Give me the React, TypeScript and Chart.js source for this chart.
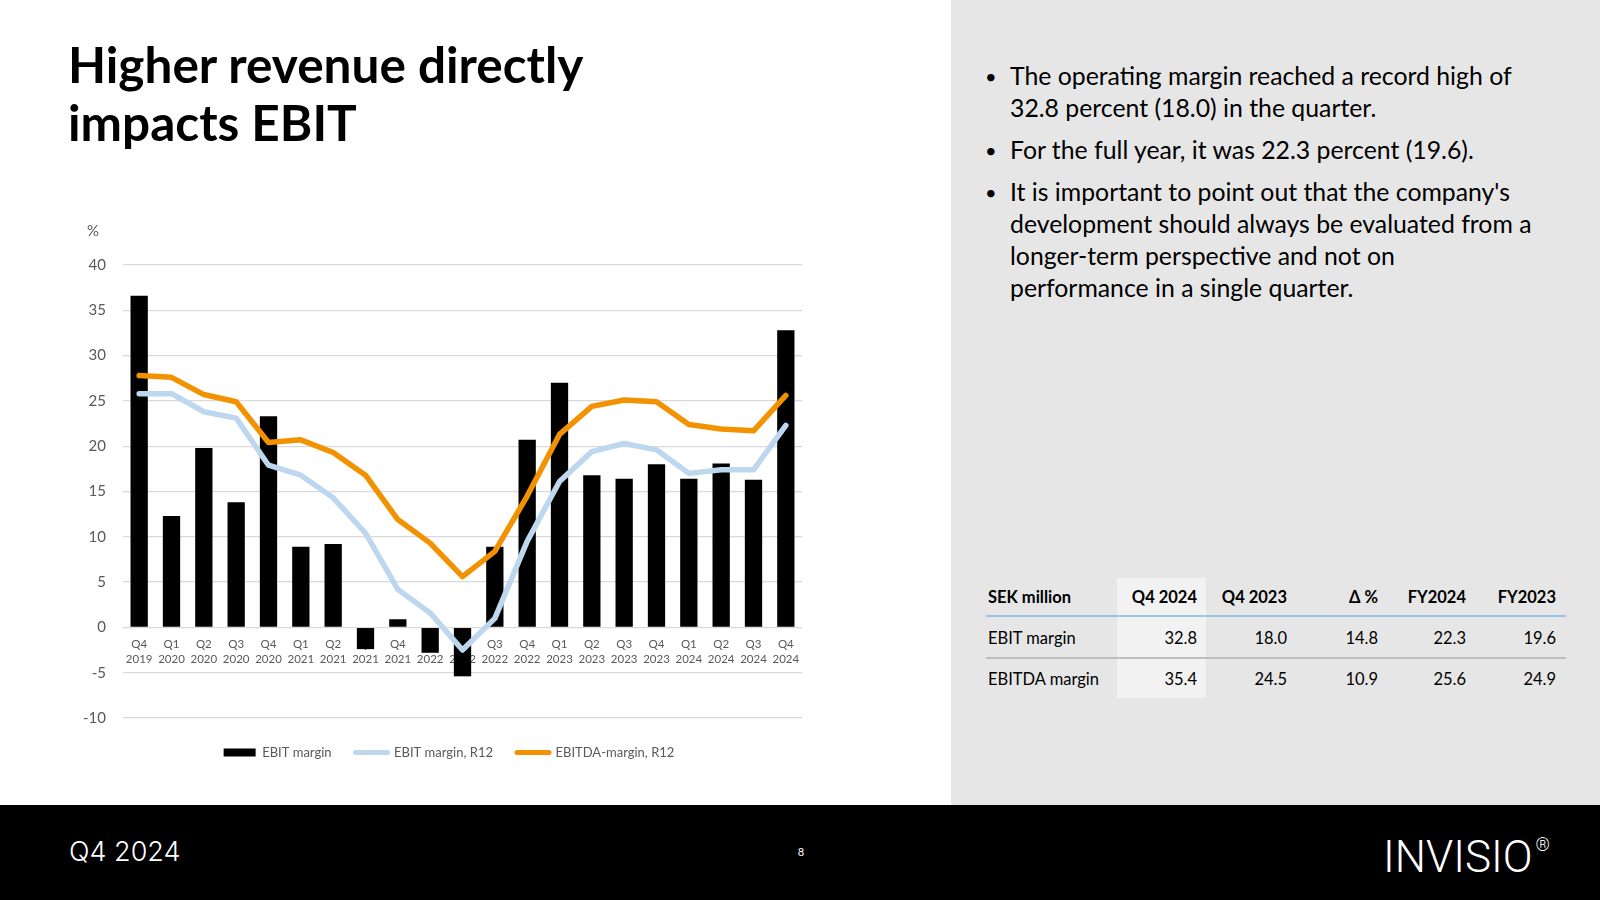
import React, { useEffect, useRef } from "react";
import { Chart, registerables } from "chart.js";

Chart.register(...registerables);

// ---------- data ----------
const quarterLabels = ["Q4", "Q1", "Q2", "Q3", "Q4", "Q1", "Q2", "Q3", "Q4", "Q1", "Q2", "Q3", "Q4", "Q1", "Q2", "Q3", "Q4", "Q1", "Q2", "Q3", "Q4"];
const yearLabels = ["2019", "2020", "2020", "2020", "2020", "2021", "2021", "2021", "2021", "2022", "2022", "2022", "2022", "2023", "2023", "2023", "2023", "2024", "2024", "2024", "2024"];

const ebitMargin = [36.6, 12.3, 19.8, 13.8, 23.3, 8.9, 9.2, -2.4, 0.9, -2.8, -5.4, 8.9, 20.7, 27.0, 16.8, 16.4, 18.0, 16.4, 18.1, 16.3, 32.8];
const ebitMarginR12 = [25.8, 25.8, 23.8, 23.1, 17.9, 16.8, 14.3, 10.4, 4.2, 1.6, -2.5, 1.0, 9.5, 16.1, 19.4, 20.3, 19.6, 17.0, 17.4, 17.4, 22.3];
const ebitdaMarginR12 = [27.8, 27.6, 25.7, 24.9, 20.4, 20.7, 19.3, 16.8, 11.9, 9.3, 5.6, 8.4, 14.5, 21.3, 24.4, 25.1, 24.9, 22.4, 21.9, 21.7, 25.6];

const seriesNames = ["EBIT margin", "EBIT margin, R12", "EBITDA-margin, R12"];
const yMin = -10;
const yMax = 40;
const yStep = 5;
const yUnit = "%";

const titleLines = ["Higher revenue directly", "impacts EBIT"];
const bulletLines = [
  ["The operating margin reached a record high of", "32.8 percent (18.0) in the quarter."],
  ["For the full year, it was 22.3 percent (19.6)."],
  ["It is important to point out that the company's", "development should always be evaluated from a", "longer-term perspective and not on", "performance in a single quarter."],
];

const tableHeaderLabel = "SEK million";
const tableColumns = ["Q4 2024", "Q4 2023", "Δ %", "FY2024", "FY2023"];
const tableRowNames = ["EBIT margin", "EBITDA margin"];
const tableEbitValues = ["32.8", "18.0", "14.8", "22.3", "19.6"];
const tableEbitdaValues = ["35.4", "24.5", "10.9", "25.6", "24.9"];

const footerPeriod = "Q4 2024";
const pageNumber = "8";
const logoText = "INVISIO";

// ---------- styles ----------
const COLORS = {
  bar: "#000000",
  ebitR12: "#BDD7EE",
  ebitdaR12: "#F39200",
  grid: "#D9D9D9",
  tick: "#595959",
  panel: "#E7E6E6",
};

const FONT = "Lato, 'Open Sans', sans-serif";

const percentLabelPlugin = {
  id: "percentLabel",
  afterLayout(chart: any) {
    if (chart.legend) {
      chart.legend.left += 36;
      chart.legend.top += 4;
    }
  },
  afterDraw(chart: any) {
    const ctx = chart.ctx;
    ctx.save();
    ctx.font = `15px ${FONT}`;
    ctx.fillStyle = COLORS.tick;
    ctx.textAlign = "left";
    ctx.textBaseline = "middle";
    ctx.fillText(yUnit, chart.chartArea.left - 36, chart.chartArea.top - 34);
    ctx.restore();
  },
};

function MarginChart() {
  const ref = useRef<HTMLCanvasElement | null>(null);

  useEffect(() => {
    if (!ref.current) return;
    Chart.defaults.font.family = FONT;
    const labels = quarterLabels.map((q, i) => [q, yearLabels[i]]);
    const chart = new Chart(ref.current, {
      type: "bar",
      data: {
        labels,
        datasets: [
          {
            type: "bar",
            label: seriesNames[0],
            data: ebitMargin,
            backgroundColor: COLORS.bar,
            borderWidth: 0,
            barPercentage: 0.535,
            categoryPercentage: 1,
            order: 3,
          },
          {
            type: "line",
            label: seriesNames[1],
            data: ebitMarginR12,
            borderColor: COLORS.ebitR12,
            backgroundColor: COLORS.ebitR12,
            borderWidth: 5.5,
            pointRadius: 0,
            tension: 0,
            fill: false,
            borderCapStyle: "round",
            borderJoinStyle: "round",
            order: 2,
          },
          {
            type: "line",
            label: seriesNames[2],
            data: ebitdaMarginR12,
            borderColor: COLORS.ebitdaR12,
            backgroundColor: COLORS.ebitdaR12,
            borderWidth: 5.5,
            pointRadius: 0,
            tension: 0,
            fill: false,
            borderCapStyle: "round",
            borderJoinStyle: "round",
            order: 1,
          },
        ] as any,
      },
      options: {
        responsive: false,
        animation: false,
        events: [],
        layout: { padding: { left: 0, right: 18, top: 65, bottom: 5 } },
        scales: {
          x: {
            type: "category",
            position: { y: 0 } as any,
            offset: true,
            z: 1,
            grid: { display: false, drawTicks: false },
            border: { display: false },
            ticks: {
              color: COLORS.tick,
              font: { size: 11.5, lineHeight: 1.35 },
              padding: 9,
              maxRotation: 0,
              minRotation: 0,
              autoSkip: false,
            },
          },
          y: {
            min: yMin,
            max: yMax,
            grid: { color: COLORS.grid, lineWidth: 1.3, drawTicks: false },
            border: { display: false },
            ticks: { stepSize: yStep, color: COLORS.tick, font: { size: 15 }, padding: 17 },
            afterFit: (s: any) => {
              s.width = 63;
            },
          },
        },
        plugins: {
          tooltip: { enabled: false },
          legend: {
            position: "bottom",
            labels: {
              usePointStyle: true,
              pointStyleWidth: 32,
              boxHeight: 8,
              padding: 24,
              color: COLORS.tick,
              font: { size: 13 },
              generateLabels: (c: any) =>
                c.data.datasets.map((ds: any, i: number) => ({
                  text: ds.label,
                  datasetIndex: i,
                  fillStyle: i === 0 ? COLORS.bar : ds.borderColor,
                  strokeStyle: i === 0 ? COLORS.bar : ds.borderColor,
                  lineWidth: i === 0 ? 0 : 5,
                  lineCap: "round",
                  pointStyle: i === 0 ? "rect" : "line",
                  hidden: false,
                  fontColor: COLORS.tick,
                })),
            },
          },
        },
      } as any,
      plugins: [percentLabelPlugin],
    });
    return () => chart.destroy();
  }, []);

  return <canvas ref={ref} width={760} height={570} style={{ width: 760, height: 570, display: "block" }} />;
}

export default function App() {
  const colRights = [1197, 1287, 1378, 1466, 1556];
  const rowCenters = [638, 679];
  const rowValues = [tableEbitValues, tableEbitdaValues];
  return (
    <div style={{ position: "fixed", left: 0, top: 0, width: 1600, height: 900, background: "#fff", overflow: "hidden", fontFamily: FONT }}>
      {/* title */}
      <div style={{ position: "absolute", left: 68, top: 35, fontSize: 49.5, fontWeight: 700, lineHeight: "58px", color: "#000", whiteSpace: "nowrap" }}>
        {titleLines.map((t, i) => (
          <div key={i}>{t}</div>
        ))}
      </div>

      {/* chart */}
      <div style={{ position: "absolute", left: 60, top: 200, width: 760, height: 570 }}>
        <MarginChart />
      </div>

      {/* right panel */}
      <div style={{ position: "absolute", left: 951, top: 0, width: 649, height: 805, background: COLORS.panel }} />
      <div style={{ position: "absolute", left: 1010, top: 60, fontSize: 24.8, lineHeight: "32px", color: "#000", whiteSpace: "nowrap" }}>
        {bulletLines.map((lines, i) => (
          <div key={i} style={{ position: "relative", marginTop: i === 0 ? 0 : 10 }}>
            <span style={{ position: "absolute", left: -25, fontSize: 20 }}>•</span>
            {lines.map((l, j) => (
              <div key={j}>{l}</div>
            ))}
          </div>
        ))}
      </div>

      {/* table */}
      <div style={{ position: "absolute", left: 1117, top: 578, width: 89, height: 120, background: "#F2F2F2" }} />
      <div style={{ position: "absolute", left: 986, top: 615, width: 580, height: 2, background: "#9DC3E6" }} />
      <div style={{ position: "absolute", left: 986, top: 657, width: 580, height: 2, background: "#BFBFBF" }} />
      <div style={{ position: "absolute", left: 988, top: 587, fontSize: 16.5, fontWeight: 700, lineHeight: "20px", color: "#000" }}>{tableHeaderLabel}</div>
      {tableColumns.map((c, i) => (
        <div key={c} style={{ position: "absolute", left: colRights[i] - 120, width: 120, textAlign: "right", top: 587, fontSize: 16.5, fontWeight: 700, lineHeight: "20px", color: "#000" }}>
          {c}
        </div>
      ))}
      {tableRowNames.map((r, ri) => (
        <React.Fragment key={r}>
          <div style={{ position: "absolute", left: 988, top: rowCenters[ri] - 10, fontSize: 16.5, lineHeight: "20px", color: "#000" }}>{r}</div>
          {rowValues[ri].map((v, i) => (
            <div key={i} style={{ position: "absolute", left: colRights[i] - 120, width: 120, textAlign: "right", top: rowCenters[ri] - 10, fontSize: 16.5, lineHeight: "20px", color: "#000" }}>
              {v}
            </div>
          ))}
        </React.Fragment>
      ))}

      {/* footer */}
      <div style={{ position: "absolute", left: 0, top: 805, width: 1600, height: 95, background: "#000" }} />
      <div style={{ position: "absolute", left: 69, top: 838, fontFamily: "Inter, sans-serif", fontWeight: 300, fontSize: 27, lineHeight: "28px", color: "#fff" }}>{footerPeriod}</div>
      <div style={{ position: "absolute", left: 780, width: 42, textAlign: "center", top: 845, fontSize: 11, lineHeight: "14px", color: "#fff" }}>{pageNumber}</div>
      <div style={{ position: "absolute", left: 1383, top: 835, fontFamily: "Roboto, sans-serif", fontWeight: 300, fontSize: 44, lineHeight: "44px", color: "#fff", whiteSpace: "nowrap" }}>
        {logoText}
        <span style={{ fontSize: 18, verticalAlign: "top", position: "relative", top: -12, marginLeft: 3 }}>®</span>
      </div>
    </div>
  );
}
